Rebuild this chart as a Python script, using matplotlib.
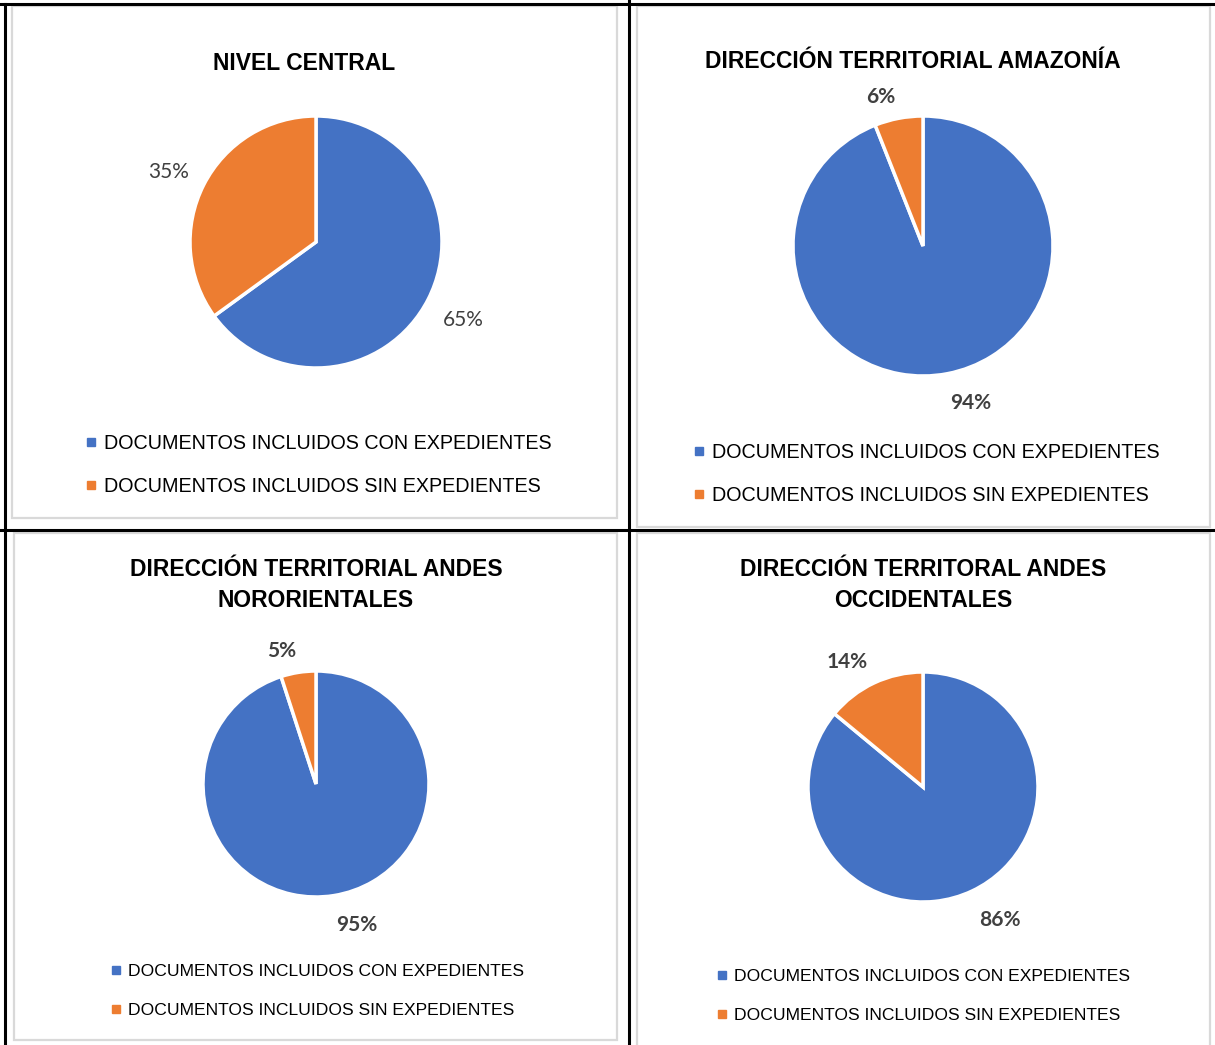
import numpy as np
import matplotlib
matplotlib.use('Agg')
from matplotlib import pyplot as plt
from matplotlib.lines import Line2D
from matplotlib.patches import Rectangle

#data
titles = ['NIVEL CENTRAL',
          'DIRECCIÓN TERRITORIAL AMAZONÍA',
          'DIRECCIÓN TERRITORIAL ANDES\nNORORIENTALES',
          'DIRECCIÓN TERRITORAL ANDES\nOCCIDENTALES']
categorias = ['DOCUMENTOS INCLUIDOS CON EXPEDIENTES',
              'DOCUMENTOS INCLUIDOS SIN EXPEDIENTES']
con_expedientes = [65, 94, 95, 86]
sin_expedientes = [35, 6, 5, 14]

colores = ['#4472C4', '#ED7D31']
W, H = 1215, 1045
narrow = ['Liberation Sans', 'DejaVu Sans']
calibri = ['Lato', 'DejaVu Sans']

#layout per panel (pixels): pie center/radius, title pos, legend pos, sizes
layout = [
    dict(cx=316, cy=242, r=126, tx=304, ty=63, lx=86, ly=465, lfs=14.2, lsp=1.22, bold=False),
    dict(cx=923, cy=246, r=130, tx=913, ty=61, lx=694, ly=474, lfs=14.2, lsp=1.22, bold=True),
    dict(cx=316, cy=784, r=113, tx=316, ty=585, lx=112, ly=991, lfs=12.6, lsp=1.33, bold=True),
    dict(cx=923, cy=787, r=115, tx=923, ty=585, lx=718, ly=996, lfs=12.6, lsp=1.4, bold=True),
]

def fx(x):
    return x / W

def fy(y):
    return 1 - y / H

fig = plt.figure(figsize=(W / 100, H / 100), dpi=100)

#gray chart borders
for (x0, y0, x1, y1) in [(12, 6, 617, 518), (637, 6, 1210, 527),
                         (14, 533, 617, 1040), (637, 533, 1210, 1050)]:
    fig.add_artist(Rectangle((fx(x0), fy(y1)), fx(x1 - x0), (y1 - y0) / H,
                             transform=fig.transFigure, fill=False,
                             edgecolor='#d9d9d9', linewidth=1.6))

#black table lines
for (x0, y0, x1, y1) in [(5, 4, 5, 1045), (0, 4, 1214, 4),
                         (629, 0, 629, 1045), (0, 530, 1215, 530)]:
    fig.add_artist(Line2D([fx(x0), fx(x1)], [fy(y0), fy(y1)],
                          transform=fig.transFigure, color='black', linewidth=2.2))

for i in range(4):
    p = layout[i]
    r = p['r']
    s = 1.05  # axes a bit bigger than pie
    ax = fig.add_axes([fx(p['cx'] - r * s), fy(p['cy'] + r * s), 2 * r * s / W, 2 * r * s / H])
    vals = [con_expedientes[i], sin_expedientes[i]]
    wedges, texts = ax.pie(vals, colors=colores, startangle=90, counterclock=False,
                           wedgeprops=dict(edgecolor='white', linewidth=2.5))
    total = sum(vals)
    #outside end labels, corner anchored like excel
    d = 1 + 16 / r
    for w, v in zip(wedges, vals):
        ang = np.deg2rad((w.theta1 + w.theta2) / 2)
        c, sn = np.cos(ang), np.sin(ang)
        y = d * sn if sn > 0 else d * sn - 4 / r
        ax.text(d * c, y, '%d%%' % round(100 * v / total),
                ha='left' if c > 0 else 'right', va='baseline' if sn > 0 else 'top',
                family=calibri, fontsize=15, color='#404040',
                fontweight='bold' if p['bold'] else 'normal')
    ax.set_xlim(-s, s)
    ax.set_ylim(-s, s)
    ax.axis('off')

    fig.text(fx(p['tx']), fy(p['ty']), titles[i], ha='center', va='center',
             fontsize=16.5, fontweight='bold', family=narrow, linespacing=1.45)

    handles = [Line2D([], [], marker='s', linestyle='', markersize=5.5, color=c) for c in colores]
    fig.legend(handles, categorias, loc='center left',
               bbox_to_anchor=(fx(p['lx']), fy(p['ly'])), frameon=False,
               prop=dict(family=narrow, size=p['lfs']), labelspacing=p['lsp'],
               handlelength=0.5, handletextpad=0.4, borderpad=0, borderaxespad=0)

fig.savefig('out.png', dpi=100, facecolor='white')
